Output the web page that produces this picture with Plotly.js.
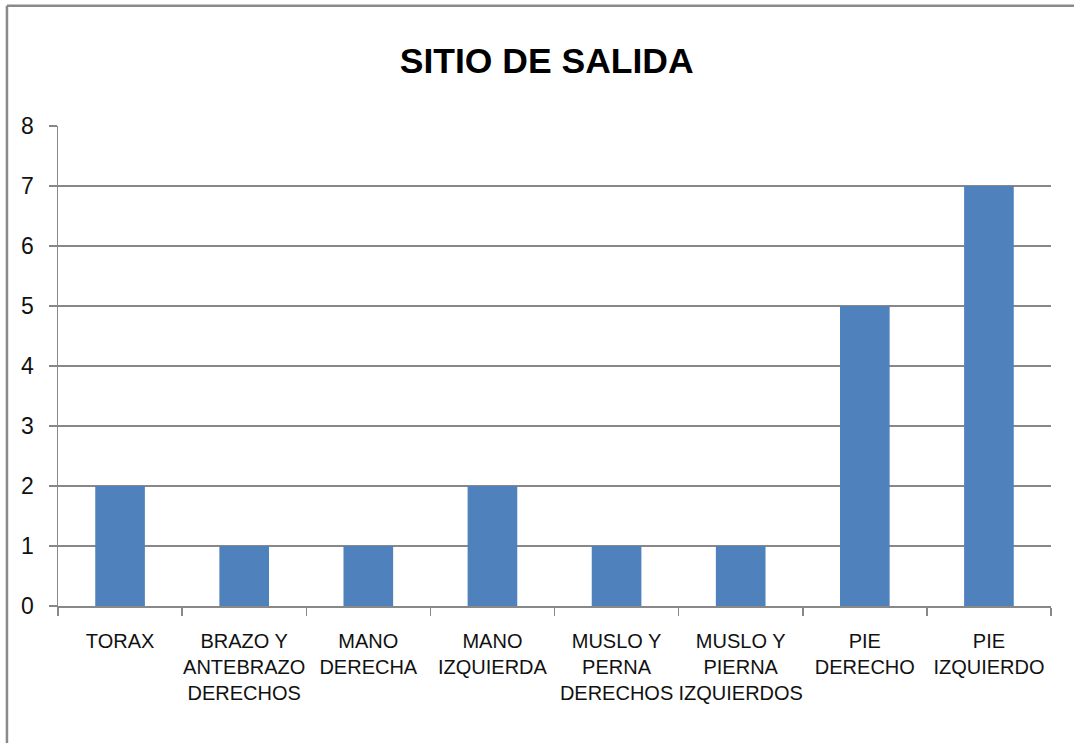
<!DOCTYPE html>
<html><head><meta charset="utf-8">
<script src="https://cdn.plot.ly/plotly-3.0.1.min.js"></script>
<style>html,body{margin:0;padding:0;background:#fff}#chart{width:1074px;height:743px}</style>
</head><body><div id="chart"></div>
<script>
const categories = ["TORAX", "BRAZO Y<br>ANTEBRAZO<br>DERECHOS", "MANO<br>DERECHA", "MANO<br>IZQUIERDA", "MUSLO Y<br>PERNA<br>DERECHOS", "MUSLO Y<br>PIERNA<br>IZQUIERDOS", "PIE<br>DERECHO", "PIE<br>IZQUIERDO"];
const values = [2, 1, 1, 2, 1, 1, 5, 7];
const yTicks = [0, 1, 2, 3, 4, 5, 6, 7, 8];
const titleText = "SITIO DE SALIDA";

const font = "'Liberation Sans', Arial, sans-serif";
const trace = {
  type: 'bar', x: categories, y: values,
  marker: {color: '#4F81BD'}, hoverinfo: 'none'
};
const frameLine = {color: '#8a8a8a', width: 2.5};
const layout = {
  width: 1074, height: 743,
  margin: {l: 58, r: 23, t: 126, b: 137},
  paper_bgcolor: '#fff', plot_bgcolor: '#fff',
  bargap: 0.6,
  showlegend: false,
  font: {family: font},
  title: {text: '<b>' + titleText + '</b>', x: 0.509, xanchor: 'center', y: 0.918, yanchor: 'middle',
          font: {family: font, size: 35.5, color: '#000'}},
  xaxis: {type: 'category', showgrid: false, showline: true, linecolor: '#888', linewidth: 1.5,
          ticks: 'outside', tickson: 'boundaries', ticklen: 8, tickcolor: '#888', tickwidth: 1.5,
          ticklabelstandoff: 16,
          tickfont: {family: font, size: 20, color: '#111'}, tickangle: 0, automargin: false},
  yaxis: {range: [0, 8], tickvals: yTicks, showgrid: true, gridcolor: '#888', gridwidth: 1.5,
          showline: true, linecolor: '#888', linewidth: 1.5, zeroline: false,
          ticks: 'outside', ticklen: 8, tickcolor: '#888', tickwidth: 1.5, ticklabelstandoff: 10,
          tickfont: {family: font, size: 23, color: '#111'}, automargin: false},
  shapes: [
    {type: 'line', xref: 'paper', yref: 'paper', x0: -0.0514, x1: 1.05, y0: 1.2506, y1: 1.2506, line: frameLine},
    {type: 'line', xref: 'paper', yref: 'paper', x0: -0.0514, x1: -0.0514, y0: -0.3, y1: 1.2506, line: frameLine}
  ]
};
Plotly.newPlot('chart', [trace], layout, {displayModeBar: false, staticPlot: true});
</script></body></html>
